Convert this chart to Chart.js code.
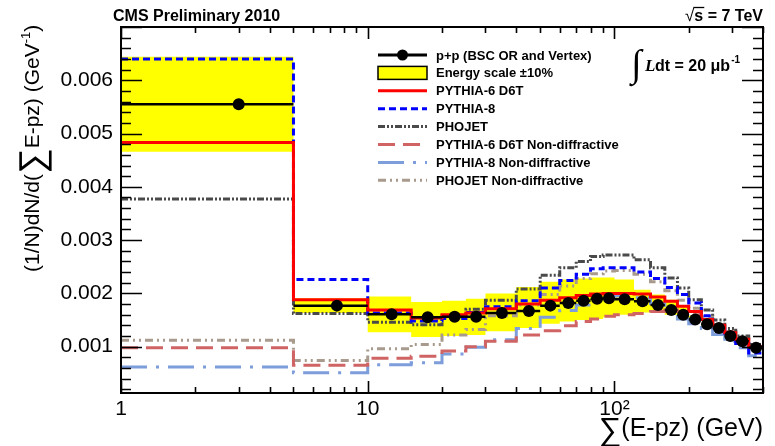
<!DOCTYPE html>
<html>
<head>
<meta charset="utf-8">
<script src="https://cdn.jsdelivr.net/npm/chart.js@4.4.0/dist/chart.umd.min.js"></script>
<style>
    html, body { margin: 0; padding: 0; background: #fff; }
    #wrap { width: 775px; height: 446px; }
</style>
</head>
<body>
<div id="wrap"><canvas id="chart" width="775" height="446"></canvas></div>
<script>
// Bin edges of Sum(E-pz) in GeV (variable width)
const binEdges = [1, 5, 10, 15, 20, 25, 30, 40, 50, 60, 70, 80, 90, 100, 120, 140, 160, 180, 200, 225, 250, 280, 310, 350, 400];

// Measured distribution (one value per bin)
const dataValues = [0.00555, 0.00177, 0.00161, 0.00155, 0.00156, 0.00156, 0.00163, 0.00167, 0.00177, 0.00182, 0.00186, 0.0019,
    0.00191, 0.00189, 0.00185, 0.00178, 0.00169, 0.0016, 0.00151, 0.00142, 0.00135, 0.0012, 0.0011, 0.00098];

// Energy scale +-10% band
const bandLow = [0.00466, 0.00163, 0.00127, 0.00118, 0.0012, 0.00122, 0.00129, 0.00135, 0.00143, 0.00147, 0.0015, 0.00152,
    0.00155, 0.0016, 0.00164, 0.00164, 0.0016, 0.00155, 0.0015, 0.0014, 0.00133, 0.00119, 0.00109, 0.00097];
const bandHigh = [0.00644, 0.00191, 0.00194, 0.00184, 0.00186, 0.0019, 0.002, 0.00212, 0.00222, 0.00226, 0.00228, 0.0023,
    0.0023, 0.00226, 0.00207, 0.00198, 0.00188, 0.00176, 0.00158, 0.00144, 0.00137, 0.00121, 0.00111, 0.00099];

// MC predictions
const pythia6 = [0.00483, 0.00188, 0.00169, 0.00154, 0.0016, 0.00163, 0.00171, 0.0018, 0.00187, 0.00192, 0.00196, 0.00199,
    0.002, 0.002, 0.00199, 0.00193, 0.00185, 0.00176, 0.00166, 0.00151, 0.0014, 0.00126, 0.00114, 0.001];
const pythia8 = [0.0064, 0.00226, 0.00163, 0.00148, 0.00153, 0.00164, 0.00175, 0.00186, 0.0021, 0.00224, 0.00236, 0.00246,
    0.00248, 0.00248, 0.0024, 0.00228, 0.00211, 0.00198, 0.00182, 0.00158, 0.0014, 0.0012, 0.00106, 0.00088];
const phojet = [0.00377, 0.00162, 0.00146, 0.00141, 0.00158, 0.0017, 0.00187, 0.00208, 0.00234, 0.00248, 0.0026, 0.00269,
    0.00272, 0.00272, 0.00263, 0.00248, 0.00229, 0.0021, 0.00188, 0.00169, 0.0015, 0.00134, 0.0012, 0.00104];
const pythia6ND = [0.00098, 0.00065, 0.00078, 0.00082, 0.00092, 0.001, 0.0011, 0.00122, 0.0013, 0.00139, 0.00147, 0.00152,
    0.00157, 0.0016, 0.00162, 0.00166, 0.00169, 0.00166, 0.0016, 0.00151, 0.0014, 0.00128, 0.00113, 0.001];
const pythia8ND = [0.00062, 0.00051, 0.00066, 0.0007, 0.00086, 0.00099, 0.00113, 0.00134, 0.00155, 0.00168, 0.00178, 0.00186,
    0.00192, 0.00195, 0.00192, 0.00181, 0.00167, 0.00152, 0.00143, 0.00134, 0.00123, 0.0011, 0.00098, 0.00083];
const phojetND = [0.00112, 0.00074, 0.00096, 0.00104, 0.00122, 0.00132, 0.00158, 0.00178, 0.00198, 0.00214, 0.00228, 0.00237,
    0.00242, 0.00243, 0.00236, 0.00222, 0.00205, 0.00187, 0.00172, 0.00156, 0.00142, 0.00128, 0.00116, 0.00102];

// Axis ticks
const yTicks = [0.001, 0.002, 0.003, 0.004, 0.005, 0.006];
const xTicks = [1, 10, 100];
const xTickLabels = ['1', '10', '10\u00B2'];

const legendLabels = ['p+p (BSC OR and Vertex)', 'Energy scale \u00B110%', 'PYTHIA-6 D6T', 'PYTHIA-8', 'PHOJET',
    'PYTHIA-6 D6T Non-diffractive', 'PYTHIA-8 Non-diffractive', 'PHOJET Non-diffractive'];

const FONT = '"Liberation Sans", Arial, Helvetica, sans-serif';
const SERIF = '"Liberation Serif", "DejaVu Serif", serif';

// One point per low edge, plus the last upper edge, for a stepped histogram line
function histPoints(values) {
    const pts = values.map((v, i) => ({ x: binEdges[i], y: v }));
    pts.push({ x: binEdges[binEdges.length - 1], y: values[values.length - 1] });
    return pts;
}

function histDataset(label, values, color, dash, order) {
    return {
        label: label,
        data: histPoints(values),
        borderColor: color,
        borderWidth: 3,
        borderDash: dash,
        stepped: true,
        pointRadius: 0,
        fill: false,
        order: order
    };
}

// data markers at the (linear) bin centre
const dataPoints = dataValues.map((v, i) => ({ x: (binEdges[i] + binEdges[i + 1]) / 2, y: v }));

const datasets = [
    {
        label: 'Energy scale \u00B110%',
        data: histPoints(bandHigh),
        borderColor: 'rgba(0,0,0,0)',
        backgroundColor: '#ffff00',
        stepped: true,
        pointRadius: 0,
        fill: '+1',
        order: 20
    },
    {
        label: 'band low',
        data: histPoints(bandLow),
        borderColor: 'rgba(0,0,0,0)',
        stepped: true,
        pointRadius: 0,
        fill: false,
        order: 21
    },
    histDataset('PHOJET Non-diffractive', phojetND, '#a89a8c', [8, 4, 2, 4, 2, 4], 9),
    histDataset('PYTHIA-8 Non-diffractive', pythia8ND, '#7d9ddb', [26, 9, 3, 9], 8),
    histDataset('PYTHIA-6 D6T Non-diffractive', pythia6ND, '#d06464', [17, 8], 7),
    histDataset('PHOJET', phojet, '#4a4a4a', [7, 2, 2, 2, 2, 2], 6),
    histDataset('PYTHIA-8', pythia8, '#0000ff', [7, 4], 5),
    histDataset('PYTHIA-6 D6T', pythia6, '#ff0000', [], 4),
    {
        label: 'p+p (BSC OR and Vertex)',
        data: dataPoints,
        showLine: false,
        pointRadius: 6,
        pointBackgroundColor: '#000',
        pointBorderColor: '#000',
        pointBorderWidth: 0,
        borderColor: '#000',
        order: 0
    }
];

function findDataset(chart, label) {
    return chart.data.datasets.find(d => d.label === label);
}

// Frame, inward ticks, data x-error bars, legend and text labels
const cmsDecor = {
    id: 'cmsDecor',
    afterDatasetsDraw(chart) {
        const { ctx, chartArea: a, scales: { x, y } } = chart;
        ctx.save();

        // horizontal bars of the data across each bin
        ctx.strokeStyle = '#000';
        ctx.lineWidth = 2.5;
        ctx.beginPath();
        dataValues.forEach((v, i) => {
            const py = y.getPixelForValue(v);
            ctx.moveTo(x.getPixelForValue(binEdges[i]), py);
            ctx.lineTo(x.getPixelForValue(binEdges[i + 1]), py);
        });
        ctx.stroke();

        // ticks pointing inside, on all four sides
        ctx.lineWidth = 1.6;
        ctx.beginPath();
        for (let i = 1; i <= 35; i++) {
            const v = i * 0.0002;
            if (v < y.min || v > y.max) continue;
            const py = Math.round(y.getPixelForValue(v)) + 0.5;
            const len = i % 5 === 0 ? 21 : 10;
            ctx.moveTo(a.left, py); ctx.lineTo(a.left + len, py);
            ctx.moveTo(a.right, py); ctx.lineTo(a.right - len, py);
        }
        for (const decade of [1, 10, 100]) {
            for (let m = 1; m <= 9; m++) {
                const v = m * decade;
                if (v > x.max) break;
                const px = Math.round(x.getPixelForValue(v)) + 0.5;
                const len = m === 1 ? 12 : 6;
                ctx.moveTo(px, a.bottom); ctx.lineTo(px, a.bottom - len);
                ctx.moveTo(px, a.top); ctx.lineTo(px, a.top + len);
            }
        }
        ctx.stroke();
        ctx.lineWidth = 2;
        ctx.strokeRect(a.left, a.top, a.right - a.left, a.bottom - a.top);

        // legend
        const lx0 = 378, lx1 = 427, ltext = 436, ly0 = 55, lstep = 17.9;
        ctx.font = 'bold 13px ' + FONT;
        ctx.textBaseline = 'middle';
        ctx.textAlign = 'left';
        legendLabels.forEach((label, i) => {
            const ly = ly0 + i * lstep;
            const ds = findDataset(chart, label);
            if (i === 0) {
                ctx.setLineDash([]);
                ctx.strokeStyle = '#000';
                ctx.lineWidth = 3;
                ctx.beginPath(); ctx.moveTo(lx0, ly); ctx.lineTo(lx1, ly); ctx.stroke();
                ctx.fillStyle = '#000';
                ctx.beginPath(); ctx.arc((lx0 + lx1) / 2, ly, 5.5, 0, Math.PI * 2); ctx.fill();
            } else if (i === 1) {
                ctx.setLineDash([]);
                ctx.fillStyle = ds.backgroundColor;
                ctx.fillRect(lx0, ly - 6.5, lx1 - lx0, 13);
                ctx.strokeStyle = '#000';
                ctx.lineWidth = 1.5;
                ctx.strokeRect(lx0, ly - 6.5, lx1 - lx0, 13);
            } else {
                ctx.setLineDash(ds.borderDash);
                ctx.strokeStyle = ds.borderColor;
                ctx.lineWidth = 3;
                ctx.beginPath(); ctx.moveTo(lx0, ly); ctx.lineTo(lx1, ly); ctx.stroke();
                ctx.setLineDash([]);
            }
            ctx.fillStyle = '#000';
            ctx.fillText(label, ltext, ly + 1);
        });
        ctx.restore();
    },
    afterDraw(chart) {
        const { ctx, chartArea: a } = chart;
        ctx.save();
        ctx.fillStyle = '#000';
        ctx.strokeStyle = '#000';
        ctx.textBaseline = 'alphabetic';
        ctx.textAlign = 'left';

        // header left
        ctx.font = 'bold 16px ' + FONT;
        ctx.fillText('CMS Preliminary 2010', 113, 21);

        // header right: sqrt(s) = 7 TeV
        const rest = ' = 7 TeV';
        const wRest = ctx.measureText(rest).width;
        const wS = ctx.measureText('s').width;
        ctx.font = '17px ' + FONT;
        const wRoot = ctx.measureText('\u221A').width;
        let hx = a.right - wRest - wS - wRoot;
        ctx.fillText('\u221A', hx, 21);
        hx += wRoot;
        ctx.font = 'bold 16px ' + FONT;
        ctx.fillText('s', hx, 21);
        ctx.lineWidth = 1.3;
        ctx.beginPath(); ctx.moveTo(hx - 1, 7.5); ctx.lineTo(hx + wS + 1, 7.5); ctx.stroke();
        ctx.fillText(rest, hx + wS, 21);

        // integrated luminosity
        ctx.font = '38px ' + SERIF;
        ctx.fillText('\u222B', 631, 76);
        ctx.font = 'italic bold 17px ' + SERIF;
        ctx.fillText('L', 645, 71);
        ctx.font = 'bold 16px ' + FONT;
        const lumi = 'dt = 20 \u03BCb';
        ctx.fillText(lumi, 655, 71);
        const wl = ctx.measureText(lumi).width;
        ctx.font = 'bold 10px ' + FONT;
        ctx.fillText('-1', 655 + wl + 1, 63);

        // x axis title, right aligned at the frame
        ctx.font = '25px ' + FONT;
        const xt = '(E-pz) (GeV)';
        const wxt = ctx.measureText(xt).width;
        ctx.fillText(xt, a.right - wxt, 436);
        ctx.font = '32px ' + FONT;
        const wsig = ctx.measureText('\u2211').width;
        ctx.fillText('\u2211', a.right - wxt - wsig, 440);

        // y axis title, rotated
        ctx.translate(39, 272);
        ctx.rotate(-Math.PI / 2);
        let u = 0;
        const pieces = [
            ['(1/N)dN/d(', '21px ' + FONT, 0],
            ['\u2211', '36px ' + FONT, 5],
            ['E-pz) (GeV', '21px ' + FONT, 0],
            ['-1', '13px ' + FONT, -9],
            [')', '21px ' + FONT, 0]
        ];
        pieces.forEach(([txt, font, dv]) => {
            ctx.font = font;
            ctx.fillText(txt, u, dv);
            u += ctx.measureText(txt).width;
        });
        ctx.restore();
    }
};

const chart = new Chart(document.getElementById('chart'), {
    type: 'line',
    data: { datasets: datasets },
    options: {
        responsive: false,
        animation: false,
        devicePixelRatio: 1,
        layout: { padding: { top: 27, right: 12, left: 0, bottom: 0 } },
        plugins: {
            legend: { display: false },
            tooltip: { enabled: false }
        },
        scales: {
            x: {
                type: 'logarithmic',
                min: 1,
                max: 400,
                grid: { display: false, drawTicks: false },
                border: { display: false },
                afterFit: (scale) => { scale.height = 53; },
                afterBuildTicks: (scale) => { scale.ticks = xTicks.map(v => ({ value: v })); },
                ticks: {
                    autoSkip: false,
                    maxRotation: 0,
                    padding: 4,
                    color: '#000',
                    font: { family: FONT, size: 21 },
                    callback: (value, index) => xTickLabels[index]
                }
            },
            y: {
                type: 'linear',
                min: 0.00013,
                max: 0.007,
                grid: { display: false, drawTicks: false },
                border: { display: false },
                afterFit: (scale) => { scale.width = 121; },
                afterBuildTicks: (scale) => { scale.ticks = yTicks.map(v => ({ value: v })); },
                ticks: {
                    padding: 8,
                    color: '#000',
                    font: { family: FONT, size: 21 },
                    callback: (value) => value.toFixed(3)
                }
            }
        }
    },
    plugins: [cmsDecor]
});
</script>
</body>
</html>
